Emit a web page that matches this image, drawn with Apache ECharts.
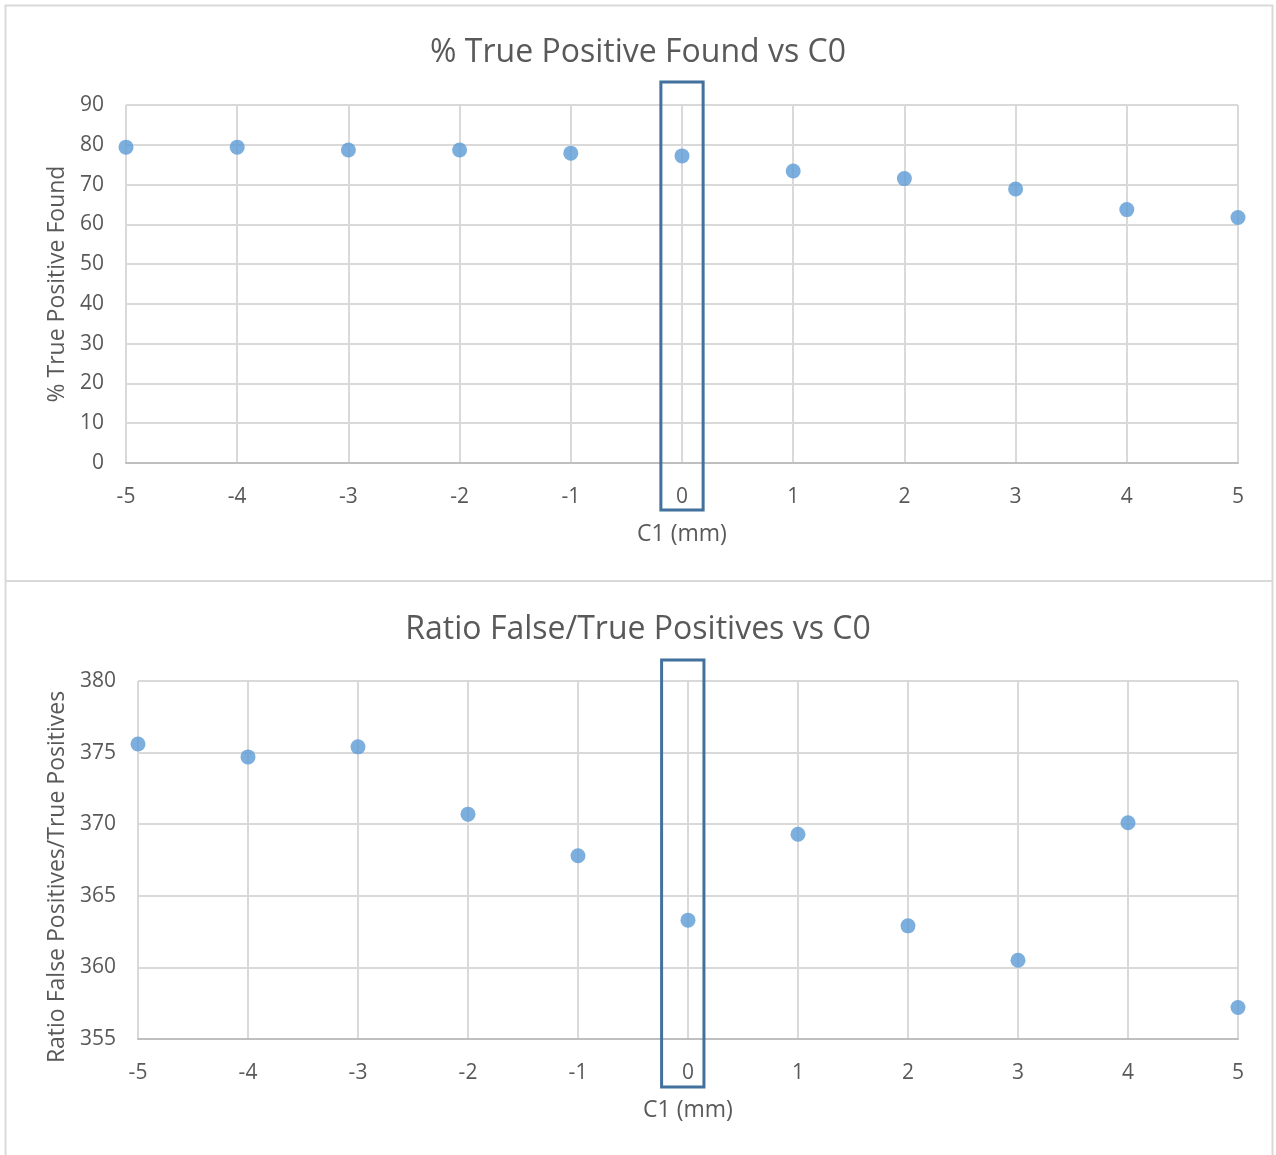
<!DOCTYPE html>
<html>
<head>
<meta charset="utf-8">
<script src="https://cdn.jsdelivr.net/npm/echarts@6/dist/echarts.min.js"></script>
<style>
html,body{margin:0;padding:0;background:#fff;}
#chart{width:1276px;height:1155px;}
</style>
</head>
<body>
<div id="chart"></div>
<script>
// ---- data ----
var xValues = [-5, -4, -3, -2, -1, 0, 1, 2, 3, 4, 5];
var truePositivePct = [79.4, 79.4, 78.7, 78.7, 77.9, 77.2, 73.4, 71.5, 68.9, 63.7, 61.7];
var ratioFalseTrue = [375.6, 374.7, 375.4, 370.7, 367.8, 363.3, 369.3, 362.9, 360.5, 370.1, 357.2];
var titles = ['% True Positive Found vs C0', 'Ratio False/True Positives vs C0'];
var xAxisName = 'C1 (mm)';
var yAxisNames = ['% True Positive Found', 'Ratio False Positives/True Positives'];
// highlight box around C1 = 0 in data units: [x0, x1, y0, y1]
var highlightTop = [-0.19, 0.19, -11.8, 95.8];
var highlightBottom = [-0.24, 0.145, 351.65, 381.47];

var FONT = '"Open Sans", sans-serif';
var TEXT = '#595959';
var GRID = '#d9d9d9';

function pairs(ys) { return xValues.map(function (x, i) { return [x, ys[i]]; }); }

function xAxisCfg(gi) {
  return {
    type: 'value', gridIndex: gi, min: -5, max: 5, interval: 1,
    name: xAxisName, nameLocation: 'middle', nameGap: 60,
    nameTextStyle: { color: TEXT, fontSize: 23, fontFamily: FONT },
    axisLine: { show: true, lineStyle: { color: '#bfbfbf', width: 2 } },
    axisTick: { show: false },
    axisLabel: { color: TEXT, fontSize: 21, fontFamily: FONT, margin: 24 },
    splitLine: { show: true, lineStyle: { color: GRID, width: 2 } }
  };
}
function yAxisCfg(gi, min, max, interval, gap, namePad) {
  return {
    type: 'value', gridIndex: gi, min: min, max: max, interval: interval,
    name: yAxisNames[gi], nameLocation: 'middle', nameGap: gap, nameRotate: 90,
    nameTextStyle: { color: TEXT, fontSize: 23, fontFamily: FONT, padding: namePad },
    axisLine: { show: false }, axisTick: { show: false },
    axisLabel: { color: TEXT, fontSize: 21, fontFamily: FONT, margin: 22, padding: [4, 0, 0, 0] },
    splitLine: { show: true, lineStyle: { color: GRID, width: 2 } }
  };
}

var chart = echarts.init(document.getElementById('chart'), null, { renderer: 'canvas' });
var option = {
  animation: false,
  backgroundColor: '#fff',
  title: [
    { text: titles[0], left: 'center', top: 32, textStyle: { color: TEXT, fontSize: 32, fontWeight: 'normal', fontFamily: FONT } },
    { text: titles[1], left: 'center', top: 609, textStyle: { color: TEXT, fontSize: 32, fontWeight: 'normal', fontFamily: FONT } }
  ],
  grid: [
    { left: 126, top: 105, width: 1112, height: 358 },
    { left: 138, top: 681, width: 1100, height: 358 }
  ],
  xAxis: [xAxisCfg(0), xAxisCfg(1)],
  yAxis: [yAxisCfg(0, 0, 90, 10, 56, 0), yAxisCfg(1, 355, 380, 5, 69, [0, 34, 0, 0])],
  series: [
    { type: 'scatter', xAxisIndex: 0, yAxisIndex: 0, data: pairs(truePositivePct), symbolSize: 15, itemStyle: { color: '#5B9BD5' }, clip: false },
    { type: 'scatter', xAxisIndex: 1, yAxisIndex: 1, data: pairs(ratioFalseTrue), symbolSize: 15, itemStyle: { color: '#5B9BD5' }, clip: false }
  ]
};
chart.setOption(option);

function boxFromData(gi, h) {
  var p0 = chart.convertToPixel({ gridIndex: gi }, [h[0], h[3]]);
  var p1 = chart.convertToPixel({ gridIndex: gi }, [h[1], h[2]]);
  return {
    type: 'rect', z: 100,
    shape: { x: p0[0], y: p0[1], width: p1[0] - p0[0], height: p1[1] - p0[1] },
    style: { fill: null, stroke: '#41719C', lineWidth: 3 }
  };
}
chart.setOption({
  graphic: [
    { type: 'rect', z: 0, shape: { x: 5.5, y: 5.5, width: 1267, height: 1160 }, style: { fill: null, stroke: GRID, lineWidth: 2 } },
    { type: 'line', z: 0, shape: { x1: 5.5, y1: 581, x2: 1272.5, y2: 581 }, style: { stroke: GRID, lineWidth: 2 } },
    boxFromData(0, highlightTop),
    boxFromData(1, highlightBottom)
  ]
});
</script>
</body>
</html>
